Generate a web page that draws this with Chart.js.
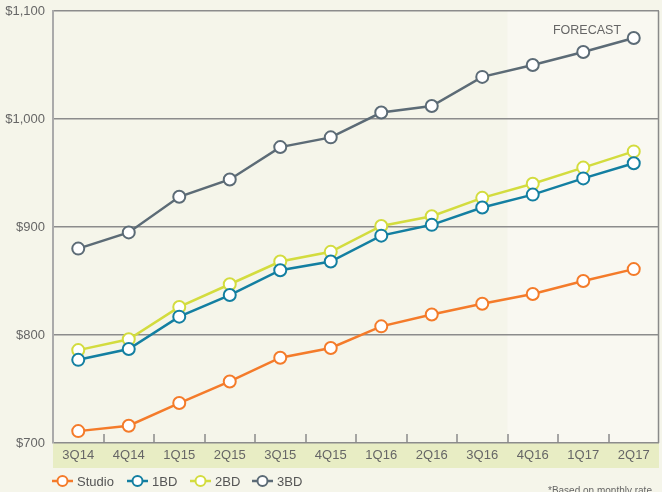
<!DOCTYPE html>
<html>
<head>
<meta charset="utf-8">
<script src="https://cdn.jsdelivr.net/npm/chart.js@4.4.1/dist/chart.umd.min.js"></script>
<style>
  html, body { margin: 0; padding: 0; background: #f5f5ea; }
  #wrap { position: relative; width: 662px; height: 492px; }
</style>
</head>
<body>
<div id="wrap"><canvas id="chart"></canvas></div>
<script>
// Rent by unit type, quarterly with forecast
const quarters = ['3Q14', '4Q14', '1Q15', '2Q15', '3Q15', '4Q15', '1Q16', '2Q16', '3Q16', '4Q16', '1Q17', '2Q17'];
const studio = [711, 716, 737, 757, 779, 788, 808, 819, 829, 838, 850, 861];
const oneBd = [777, 787, 817, 837, 860, 868, 892, 902, 918, 930, 945, 959];
const twoBd = [786, 796, 826, 847, 868, 877, 901, 910, 927, 940, 955, 970];
const threeBd = [880, 895, 928, 944, 974, 983, 1006, 1012, 1039, 1050, 1062, 1075];
const yTicks = [700, 800, 900, 1000, 1100];
const forecastStart = 9; // first forecast quarter index (4Q16)

const FONT = '"Liberation Sans", Arial, Helvetica, sans-serif';

function series(label, data, color) {
    return {
        label: label,
        data: data,
        borderColor: color,
        backgroundColor: '#ffffff',
        borderWidth: 2.5,
        pointRadius: 6,
        pointHoverRadius: 6,
        pointBorderWidth: 2,
        pointBackgroundColor: '#ffffff',
        pointBorderColor: color,
        tension: 0
    };
}

const decor = {
    id: 'decor',
    beforeDraw(chart) {
        const { ctx, chartArea: a, scales: { x } } = chart;
        ctx.save();
        // forecast shading
        const fx = (x.getPixelForValue(forecastStart - 1) + x.getPixelForValue(forecastStart)) / 2;
        ctx.fillStyle = '#f9f8f1';
        ctx.fillRect(fx, a.top, a.right - fx, a.bottom - a.top);
        // label band
        ctx.fillStyle = '#e8edc4';
        ctx.fillRect(a.left, a.bottom, a.right - a.left, 25);
        ctx.restore();
    },
    afterDatasetsDraw(chart) {
        const { ctx, chartArea: a, scales: { x } } = chart;
        ctx.save();
        // category boundary ticks
        ctx.strokeStyle = '#8a8a8a';
        ctx.lineWidth = 1.5;
        for (let i = 0; i < quarters.length - 1; i++) {
            const px = Math.round((x.getPixelForValue(i) + x.getPixelForValue(i + 1)) / 2);
            ctx.beginPath();
            ctx.moveTo(px, a.bottom);
            ctx.lineTo(px, a.bottom - 9);
            ctx.stroke();
        }
        // right border
        ctx.beginPath();
        ctx.moveTo(a.right - 0.5, a.top);
        ctx.lineTo(a.right - 0.5, a.bottom);
        ctx.stroke();

        // forecast label
        ctx.fillStyle = '#666666';
        ctx.font = '12.5px ' + FONT;
        ctx.textAlign = 'center';
        ctx.textBaseline = 'middle';
        ctx.fillText('FORECAST', 587, 31);

        // legend
        const items = chart.data.datasets.map(d => ({ label: d.label, color: d.borderColor }));
        const xs = [52, 127, 190, 252];
        const ly = 481;
        ctx.textAlign = 'left';
        ctx.font = '13px ' + FONT;
        items.forEach((it, i) => {
            const lx = xs[i];
            ctx.strokeStyle = it.color;
            ctx.lineWidth = 2.5;
            ctx.beginPath();
            ctx.moveTo(lx, ly);
            ctx.lineTo(lx + 21, ly);
            ctx.stroke();
            ctx.fillStyle = '#ffffff';
            ctx.lineWidth = 2;
            ctx.beginPath();
            ctx.arc(lx + 10.5, ly, 5, 0, Math.PI * 2);
            ctx.fill();
            ctx.stroke();
            ctx.fillStyle = '#555555';
            ctx.fillText(it.label, lx + 25, ly + 1);
        });

        // footnote
        ctx.font = '10px ' + FONT;
        ctx.textBaseline = 'top';
        ctx.fillStyle = '#666666';
        ctx.fillText('*Based on monthly rate', 548, 486);
        ctx.restore();
    }
};

new Chart(document.getElementById('chart'), {
    type: 'line',
    data: {
        labels: quarters,
        datasets: [
            series('Studio', studio, '#f47b2a'),
            series('1BD', oneBd, '#137fa1'),
            series('2BD', twoBd, '#d3dc3e'),
            series('3BD', threeBd, '#5c6b76')
        ]
    },
    options: {
        responsive: true,
        maintainAspectRatio: false,
        animation: false,
        layout: { autoPadding: false, padding: { top: 11, right: 3, left: 0, bottom: 0 } },
        plugins: {
            legend: { display: false },
            tooltip: { enabled: false }
        },
        scales: {
            x: {
                offset: true,
                grid: { display: false, drawTicks: false },
                border: { display: false },
                ticks: {
                    color: '#666666',
                    font: { family: FONT, size: 13 },
                    padding: 5,
                    maxRotation: 0,
                    autoSkip: false
                },
                afterFit: s => {
                    s.height = 49;
                    s.paddingLeft = 0;
                    s.paddingRight = 0;
                }
            },
            y: {
                min: 700,
                max: 1100,
                afterBuildTicks: s => { s.ticks = yTicks.map(v => ({ value: v })); },
                grid: { color: '#8c8c8c', lineWidth: 1.5, drawTicks: false },
                border: { display: true, color: '#aaaaaa', width: 2 },
                ticks: {
                    color: '#666666',
                    font: { family: FONT, size: 13 },
                    padding: 8,
                    callback: v => '$' + v.toLocaleString('en-US')
                },
                afterFit: s => {
                    s.width = 53;
                    s.paddingTop = 0;
                    s.paddingBottom = 0;
                }
            }
        }
    },
    plugins: [decor]
});
</script>
</body>
</html>
